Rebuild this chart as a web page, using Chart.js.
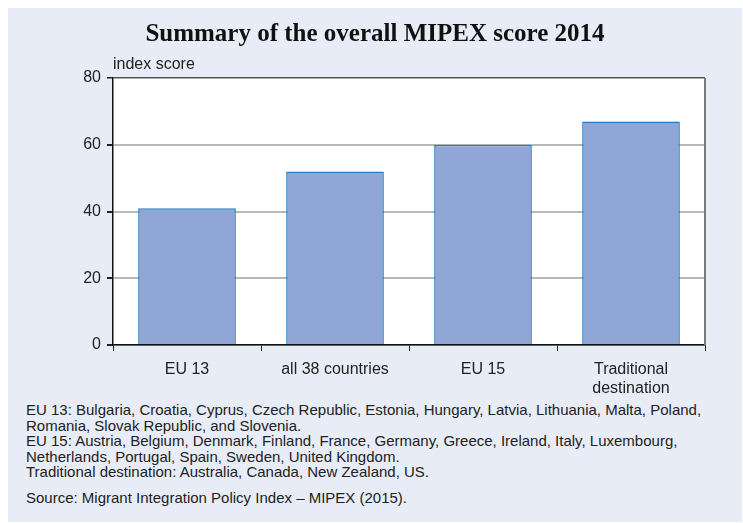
<!DOCTYPE html>
<html>
<head>
<meta charset="utf-8">
<script src="https://cdn.jsdelivr.net/npm/chart.js@4/dist/chart.umd.min.js"></script>
<style>
  body { margin: 0; background: #fff; }
  #panel {
    position: absolute; left: 8px; top: 8px; width: 734px; height: 514px;
    background: #e8ecf7;
  }
  #wrap { position: absolute; left: 0; top: 0; width: 734px; height: 392px; }
  #notes {
    position: absolute; left: 18px; top: 394px;
    font-family: "Liberation Sans", Arial, sans-serif; font-size: 15px;
    line-height: 15.5px; color: #222; white-space: nowrap;
  }
  #notes p { margin: 0; }
  #notes .src { margin-top: 10px; }
</style>
</head>
<body>
<div id="panel">
  <div id="wrap"><canvas id="myChart"></canvas></div>
  <div id="notes">
    <p>EU 13: Bulgaria, Croatia, Cyprus, Czech Republic, Estonia, Hungary, Latvia, Lithuania, Malta, Poland,<br>Romania, Slovak Republic, and Slovenia.</p>
    <p>EU 15: Austria, Belgium, Denmark, Finland, France, Germany, Greece, Ireland, Italy, Luxembourg,<br>Netherlands, Portugal, Spain, Sweden, United Kingdom.</p>
    <p>Traditional destination: Australia, Canada, New Zealand, US.</p>
    <p class="src">Source: Migrant Integration Policy Index – MIPEX (2015).</p>
  </div>
</div>
<script>
const categories = ['EU 13', 'all 38 countries', 'EU 15', ['Traditional', 'destination']];
const scores = [41, 52, 60, 67];
const yTicks = [0, 20, 40, 60, 80];

// white plot area, right frame and the "index score" label
const plotFrame = {
  id: 'plotFrame',
  beforeDraw(chart) {
    const a = chart.chartArea, c = chart.ctx;
    c.save();
    c.fillStyle = '#ffffff';
    c.fillRect(a.left, a.top, a.right - a.left, a.bottom - a.top);
    c.restore();
  },
  afterDatasetsDraw(chart) {
    const a = chart.chartArea, c = chart.ctx;
    c.save();
    c.strokeStyle = '#7a7a7a';
    c.lineWidth = 2;
    c.beginPath();
    c.moveTo(a.right, a.top);
    c.lineTo(a.right, a.bottom);
    c.stroke();
    c.fillStyle = '#222';
    c.font = '16px "Liberation Sans", Arial, sans-serif';
    c.textBaseline = 'bottom';
    c.fillText('index score', a.left, a.top - 5);
    c.restore();
  }
};

const ctx = document.getElementById('myChart').getContext('2d');
const myChart = new Chart(ctx, {
    type: 'bar',
    data: {
        labels: categories,
        datasets: [{
          data: scores,
          backgroundColor: '#8fa6d6',
          borderColor: '#2a7bc0',
          borderWidth: 1.5,
          barPercentage: 1,
          categoryPercentage: 0.66
        }]
      },
    options: {
        responsive: true,
        maintainAspectRatio: false,
        animation: false,
        layout: {
            padding: { left: 37, right: 37, top: 0, bottom: 0 }
        },
        plugins: {
            legend: { display: false },
            tooltip: { enabled: false },
            title: {
                display: true,
                text: 'Summary of the overall MIPEX score 2014',
                color: '#111',
                font: { family: '"Liberation Serif", "Times New Roman", serif', size: 25, weight: 'bold' },
                padding: { top: 12, bottom: 28 }
            }
        },
        scales: {
            y: {
                min: 0,
                max: 80,
                afterBuildTicks: (s) => { s.ticks = yTicks.map(v => ({ value: v })); },
                afterFit: (s) => { s.width = 68; },
                ticks: {
                    color: '#222',
                    padding: 6,
                    font: { family: '"Liberation Sans", Arial, sans-serif', size: 16 }
                },
                grid: {
                    color: (c) => c.tick && c.tick.value === 80 ? '#555555' : '#b8b8b8',
                    lineWidth: (c) => c.tick && c.tick.value === 80 ? 1.5 : 2,
                    tickColor: '#222',
                    tickLength: 6
                },
                border: { color: '#111', width: 1.5 }
            },
            x: {
                afterFit: (s) => { s.height = 55; },
                ticks: {
                    color: '#222',
                    padding: 9,
                    font: { family: '"Liberation Sans", Arial, sans-serif', size: 16, lineHeight: 1.2 }
                },
                grid: {
                    offset: true,
                    drawOnChartArea: false,
                    tickColor: '#222',
                    tickLength: 6
                },
                border: { color: '#111', width: 1.5 }
            }
        }
    },
    plugins: [plotFrame]
});
</script>
</body>
</html>
